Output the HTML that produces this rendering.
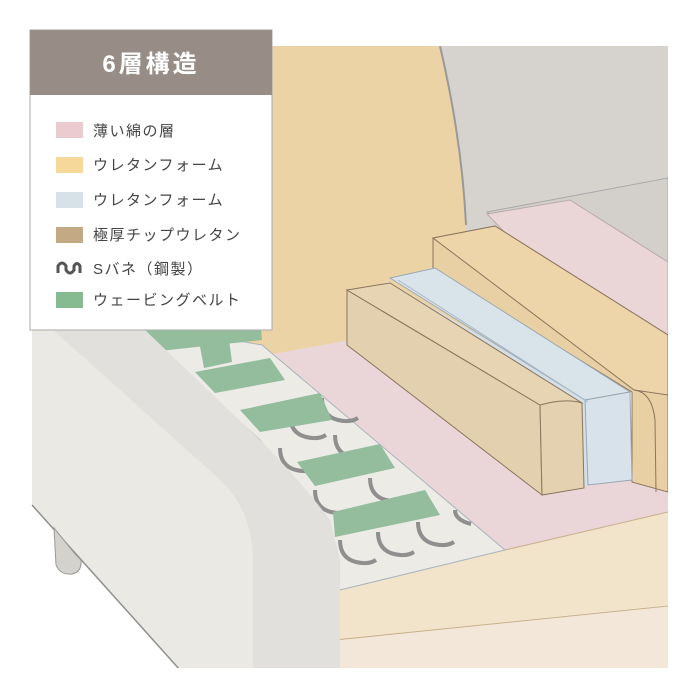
<!DOCTYPE html>
<html><head><meta charset="utf-8"><style>
html,body{margin:0;padding:0;background:#fff;width:700px;height:700px;overflow:hidden}
svg{display:block}
</style></head><body>
<svg width="700" height="700" viewBox="0 0 700 700" xmlns="http://www.w3.org/2000/svg">
<defs><clipPath id="c"><rect x="30" y="46" width="638" height="622"/></clipPath></defs>
<g clip-path="url(#c)">
<rect x="430" y="46" width="240" height="330" fill="#d6d3cf"/>
<path d="M487 212 L668 178 L668 330 Z" fill="#d3d0cb" stroke="#aaa" stroke-width="1"/>
<path d="M243 46 L440 46 Q462 140 466 225 L470 330 L265 356 Q243 352 243 320 Z" fill="#ecd3a6"/>
<path d="M440 46 Q462 140 466 225" fill="none" stroke="#999" stroke-width="2"/>
<path d="M487 214 L570 200 L668 262 L668 350 L560 290 Z" fill="#ead6d7" stroke="#b9a9ab" stroke-width="1"/>
<path d="M262 356 L350 340 L668 470 L668 512 L505 550 L280 370 Z" fill="#ead6d9"/>
<!-- tan front layers -->
<path d="M330 592 L505 550 L668 512 L668 605 L335 640 Z" fill="#f2e4cb"/>
<path d="M335 640 L668 605 L668 668 L335 668 Z" fill="#f2e7d8"/>
<path d="M505 550 L668 512 M335 640 L668 606" stroke="#c8b08a" stroke-width="1" fill="none"/>
<!-- springs area -->
<path d="M130 322 L262 345 L505 550 L340 590 L320 520 L260 440 Z" fill="#ecebe6" stroke="#a9b4bc" stroke-width="1"/>
<g fill="none" stroke="#8f8f8f" stroke-width="4">
<path d="M290 415 q0 18 16 22 q12 3 20 -2"/>
<path d="M322 398 q0 18 16 22 q12 3 20 -2"/>
<path d="M280 448 q0 18 16 22 q12 3 20 -2"/>
<path d="M335 435 q0 18 16 22 q12 3 20 -2"/>
<path d="M315 490 q0 18 16 22 q12 3 20 -2"/>
<path d="M370 478 q0 18 16 22 q12 3 20 -2"/>
<path d="M340 540 q0 18 16 22 q12 3 20 -2"/>
<path d="M378 532 q0 18 16 22 q12 3 20 -2"/>
<path d="M418 522 q0 18 16 22 q12 3 20 -2"/>
<path d="M455 510 q0 10 16 14"/>
</g>
<g fill="#93bd9c">
<polygon points="130,328 260,318 262,340 150,352"/>
<polygon points="198,336 228,332 232,362 204,368"/>
<polygon points="195,372 270,358 285,380 215,393"/>
<polygon points="240,410 320,393 332,420 260,432"/>
<polygon points="297,462 380,444 395,468 315,486"/>
<polygon points="333,512 425,490 440,515 335,537"/>
</g>
<!-- back tan block -->
<path d="M433 238 L433 270 L632 392 L632 482 L668 492 L668 335 L495 226 Z" fill="#e8cfa4" stroke="#8a765c" stroke-width="1"/>
<path d="M433 238 L495 226 L668 335 L668 395 L634 390 Z" fill="#edd4a9" stroke="#8a765c" stroke-width="1"/>
<path d="M634 390 Q652 392 655 420 L656 492" fill="none" stroke="#8a765c" stroke-width="1"/>
<!-- blue -->
<path d="M385 280 L585 398 L588 486 L575 488 Z" fill="#d4dfe7"/>
<path d="M390 278 L435 268 L630 392 L585 400 Z" fill="#d9e3ea" stroke="#9aa8b0" stroke-width="1"/>
<path d="M585 400 L630 392 L632 480 L588 485 Z" fill="#d8e2ea" stroke="#9aa8b0" stroke-width="1"/>
<path d="M398 280 L588 402" stroke="#a9b9c4" stroke-width="1" fill="none"/>
<!-- front tan block -->
<path d="M347 290 L347 345 L542 495 L540 405 Z" fill="#e3d0ae" stroke="#8a765c" stroke-width="1"/>
<path d="M347 290 L390 283 L582 403 L540 405 Z" fill="#e6d4b3" stroke="#8a765c" stroke-width="1"/>
<path d="M540 405 Q565 398 582 403 L584 488 L542 495 Z" fill="#e4d1af" stroke="#8a765c" stroke-width="1"/>
<!-- left armrest -->
<path d="M32 330 L53 330 L220 480 Q252 510 253 560 L253 670 L180 670 L32 505 Z" fill="#eae9e4"/>
<path d="M53 330 L145 330 L260 440 Q300 480 330 520 L340 560 L340 670 L253 670 L253 560 Q252 510 220 480 Z" fill="#e1e0dc"/>
<path d="M32 505 L180 670" stroke="#8f8f8f" stroke-width="1.5" fill="none"/>
<path d="M54 528 L56 565 Q60 575 72 574 Q82 572 81 560 L76 555 Z" fill="#d4d2cc" stroke="#999"/>
</g>
<rect x="30" y="30" width="242" height="300" fill="#fff" stroke="#aaa" stroke-width="1"/>
<rect x="30" y="30" width="242" height="65" fill="#978c86"/>
<text x="151" y="72" fill="#fff" font-family="'Liberation Sans','Noto Sans CJK JP',sans-serif" font-size="24" font-weight="bold" text-anchor="middle" letter-spacing="3">6層構造</text>
<g font-family="'Liberation Sans','Noto Sans CJK JP',sans-serif" font-size="15" fill="#444" letter-spacing="1.5">
<rect x="56" y="122" width="27" height="16" fill="#ebcbd0"/><text x="93" y="136">薄い綿の層</text>
<rect x="56" y="157" width="27" height="16" fill="#f6d89a"/><text x="93" y="170">ウレタンフォーム</text>
<rect x="56" y="192" width="27" height="16" fill="#d7e1e8"/><text x="93" y="205">ウレタンフォーム</text>
<rect x="56" y="227" width="27" height="16" fill="#c4a985"/><text x="93" y="240">極厚チップウレタン</text>
<path d="M58 273 L58 266 Q62 260 66 266 L66 270 Q70 276 74 270 L74 266 Q77 261 80 266 L80 273" fill="none" stroke="#555" stroke-width="3"/>
<text x="93" y="274">Sバネ（鋼製）</text>
<rect x="56" y="292" width="27" height="16" fill="#86ba90"/><text x="93" y="305">ウェービングベルト</text>
</g>
</svg>
</body></html>
